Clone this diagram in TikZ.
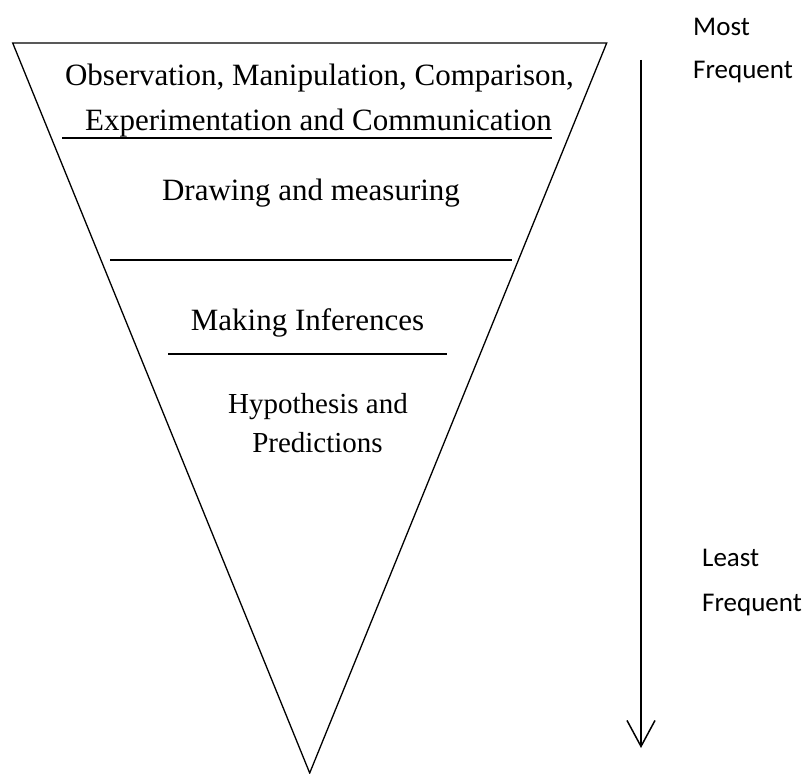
\documentclass[tikz,border=0pt]{standalone}
\usepackage{fontspec}
\setmainfont{Liberation Serif}
\newfontfamily\labelfont{Carlito}
\usetikzlibrary{positioning}
\usetikzlibrary{arrows.meta}

\begin{document}
\begin{tikzpicture}[x=1pt, y=-1pt,
    level/.style={anchor=base, inner sep=0pt, font=\fontsize{31}{36}\selectfont},
    small/.style={anchor=base, inner sep=0pt, font=\fontsize{29}{34}\selectfont},
    freq/.style={anchor=base west, inner sep=0pt, font=\labelfont\fontsize{27}{32}\selectfont},
    sep/.style={black, line width=1.6pt}]
    \useasboundingbox (0,0) rectangle (810,773);

    % inverted triangle
    \coordinate (TL) at (12.7,43);
    \coordinate (TR) at (606.7,43);
    \coordinate (Tip) at (309.7,773);
    \draw[black, line width=1.3pt] (TL) -- (TR) -- (Tip) -- cycle;

    % levels
    \node[level] (obs) at (319.5,86) {Observation, Manipulation, Comparison,};
    \node[level] (exp) at (318.5,130) {Experimentation and Communication};
    \node[level] (drawing) at (311,200) {Drawing and measuring};
    \node[level] (infer) at (307.5,330) {Making Inferences};
    \node[small] (hyp) at (318,413) {Hypothesis and};
    \node[small] (pred) at (317.5,452) {Predictions};

    % separators
    \coordinate (s1a) at (62,138);  \coordinate (s1b) at (552,138);
    \coordinate (s2a) at (110,260); \coordinate (s2b) at (512,260);
    \coordinate (s3a) at (168,354); \coordinate (s3b) at (447,354);
    \draw[sep] (s1a) -- (s1b);
    \draw[sep] (s2a) -- (s2b);
    \draw[sep] (s3a) -- (s3b);

    % frequency arrow
    \coordinate (ftop) at (641,60);
    \coordinate (fbot) at (641,748);
    \draw[black, line width=1.5pt, -{Straight Barb[length=26pt, width=28pt]}] (ftop) -- (fbot);
    \node[freq] (most) at (693,36) {Most};
    \node[freq] (mostf) at (693,79) {Frequent};
    \node[freq] (least) at (702,566) {Least};
    \node[freq] (leastf) at (702,611) {Frequent};
\end{tikzpicture}
\end{document}
